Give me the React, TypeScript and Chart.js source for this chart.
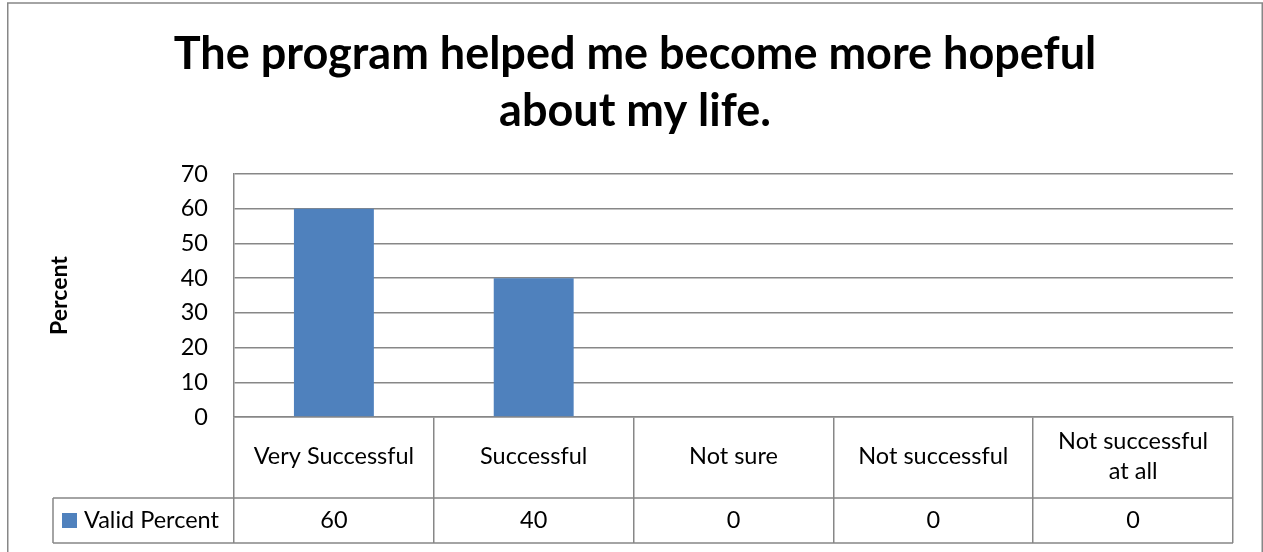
import React, { useEffect, useRef } from 'react';
import { Chart, registerables } from 'chart.js';

Chart.register(...registerables);

const titleLines = ['The program helped me become more hopeful', 'about my life.'];
const categories: (string | string[])[] = [
  'Very Successful',
  'Successful',
  'Not sure',
  'Not successful',
  ['Not successful', 'at all'],
];
const seriesName = 'Valid Percent';
const values = [60, 40, 0, 0, 0];
const yMin = 0;
const yMax = 70;
const yStep = 10;
const yAxisTitle = 'Percent';

const FONT = 'Lato, "Open Sans", sans-serif';
const GRID = '#878787';
const BAR = '#4f81bd';
const TICK_SIZE = 23.5;

const tablePlugin = {
  id: 'dataTable',
  beforeDraw(chart: any) {
    const ctx = chart.ctx;
    ctx.save();
    ctx.strokeStyle = GRID;
    ctx.lineWidth = 1.5;
    ctx.strokeRect(7.75, 3, 1254.5, 600);
    ctx.restore();
  },
  afterDraw(chart: any) {
    const { ctx } = chart;
    const x = chart.scales.x;
    const row1 = x.top + 81;
    const row2 = x.top + 126;
    const legendLeft = 53;
    ctx.save();
    ctx.strokeStyle = GRID;
    ctx.lineWidth = 1.5;
    ctx.beginPath();
    ctx.moveTo(legendLeft, row1);
    ctx.lineTo(x.right, row1);
    ctx.moveTo(legendLeft, row2);
    ctx.lineTo(x.right, row2);
    ctx.moveTo(legendLeft, row1);
    ctx.lineTo(legendLeft, row2);
    ctx.stroke();
    const mid = (row1 + row2) / 2;
    ctx.fillStyle = BAR;
    ctx.fillRect(62, mid - 7.5, 15, 15);
    ctx.fillStyle = '#000';
    ctx.font = `${TICK_SIZE}px ${FONT}`;
    ctx.textBaseline = 'middle';
    ctx.textAlign = 'left';
    ctx.fillText(chart.data.datasets[0].label, 84, mid);
    ctx.textAlign = 'center';
    chart.data.datasets[0].data.forEach((v: number, i: number) => {
      ctx.fillText(String(v), x.getPixelForValue(i), mid);
    });
    ctx.restore();
  },
};

export default function App() {
  const ref = useRef<HTMLCanvasElement | null>(null);
  useEffect(() => {
    document.body.style.margin = '0';
    const canvas = ref.current;
    if (!canvas) return;
    const chart = new Chart(canvas, {
      type: 'bar',
      data: {
        labels: categories,
        datasets: [
          {
            label: seriesName,
            data: values,
            backgroundColor: BAR,
            borderWidth: 0,
            categoryPercentage: 1,
            barPercentage: 0.4,
          },
        ],
      },
      options: {
        responsive: false,
        animation: false,
        layout: { padding: { left: 37, right: 30, top: 0, bottom: 0 } },
        plugins: {
          legend: { display: false },
          tooltip: { enabled: false },
          title: {
            display: true,
            text: titleLines,
            color: '#000',
            font: { family: FONT, size: 45, weight: 'bold', lineHeight: 57 / 45 },
            padding: { top: 25.5, bottom: 34.5 },
          },
        },
        scales: {
          x: {
            type: 'category',
            grid: {
              display: true,
              drawOnChartArea: false,
              drawTicks: true,
              tickLength: 126,
              color: GRID,
              lineWidth: 1.5,
              offset: true,
            },
            border: { display: true, color: GRID, width: 1.5 },
            ticks: {
              color: '#000',
              font: { family: FONT, size: TICK_SIZE, lineHeight: 30 / TICK_SIZE },
              padding: -102,
              crossAlign: 'center',
              maxRotation: 0,
              minRotation: 0,
              autoSkip: false,
            },
            afterFit: (s: any) => {
              s.height = 135;
            },
          },
          y: {
            min: yMin,
            max: yMax,
            ticks: {
              stepSize: yStep,
              padding: 26,
              color: '#000',
              font: { family: FONT, size: TICK_SIZE },
            },
            grid: { color: GRID, lineWidth: 1.5, drawTicks: false },
            border: { display: true, color: GRID, width: 1.5 },
            title: {
              display: true,
              text: yAxisTitle,
              color: '#000',
              font: { family: FONT, size: 23, weight: 'bold', lineHeight: 1.2 },
              padding: { top: 9, bottom: 0 },
            },
            afterFit: (s: any) => {
              s.width = 197;
            },
          },
        },
      } as any,
      plugins: [tablePlugin],
    });
    return () => chart.destroy();
  }, []);
  return (
    <div style={{ width: 1263, height: 552 }}>
      <canvas ref={ref} width={1263} height={552} style={{ display: 'block' }} />
    </div>
  );
}
